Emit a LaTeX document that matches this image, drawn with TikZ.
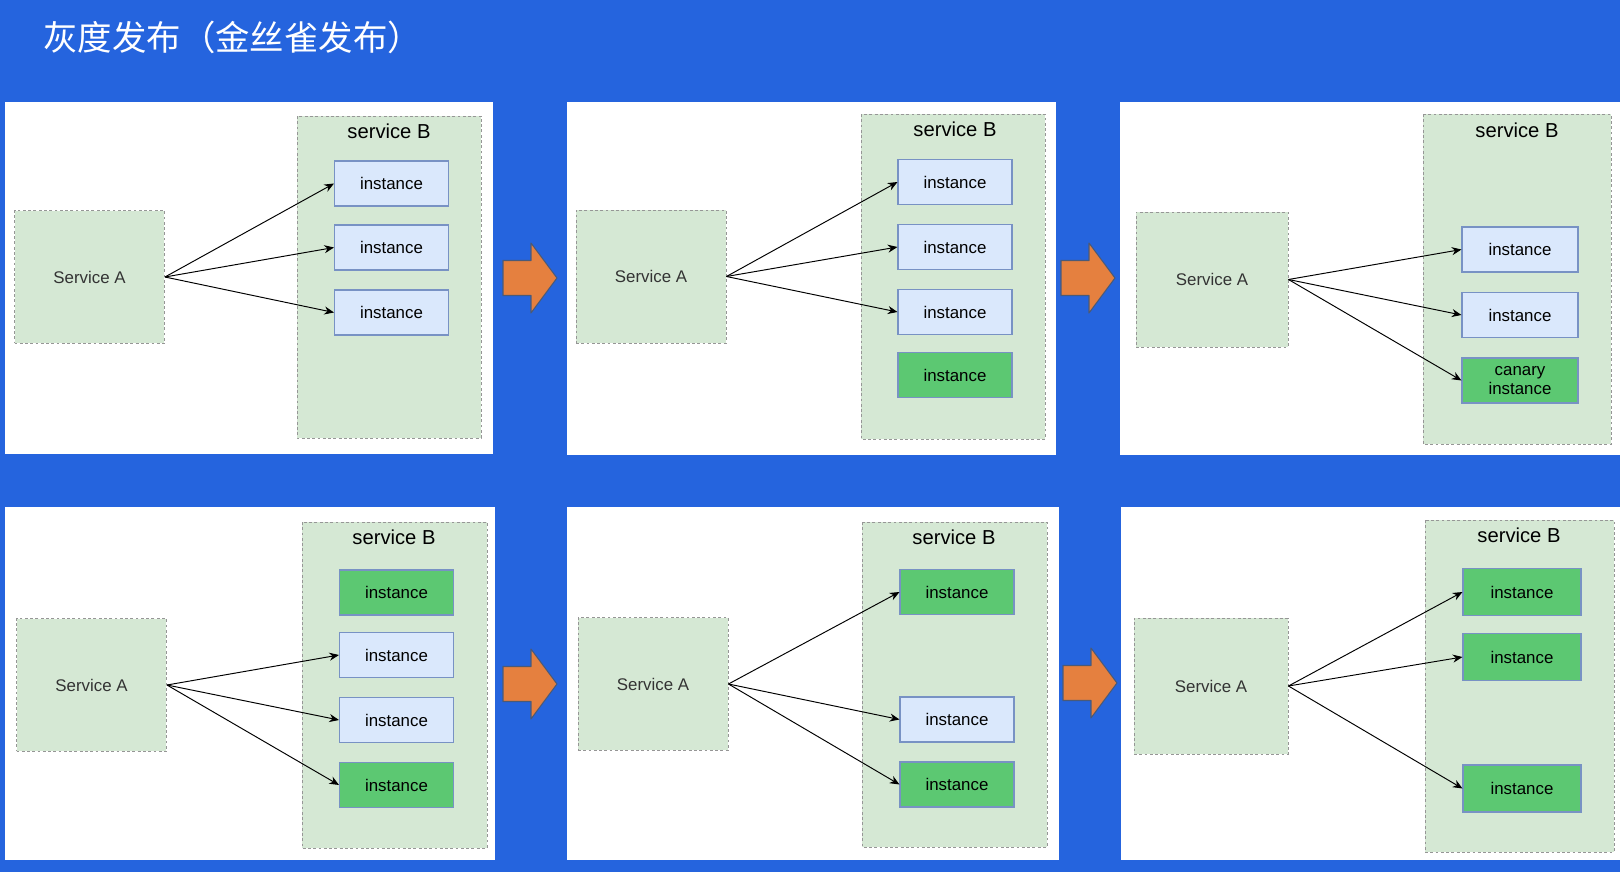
\documentclass[tikz,border=0pt]{standalone}
\usepackage{fontspec}
\setmainfont{Liberation Sans}
\newfontfamily\cjk{Noto Sans CJK SC}
\usetikzlibrary{arrows.meta}
\definecolor{bgblue}{RGB}{37,100,222}
\definecolor{grpgreen}{RGB}{213,232,212}
\definecolor{grpline}{RGB}{150,150,150}
\definecolor{instblue}{RGB}{218,232,252}
\definecolor{instline}{RGB}{120,146,196}
\definecolor{instgreen}{RGB}{92,200,114}
\definecolor{floworange}{RGB}{229,128,63}
\definecolor{flowedge}{RGB}{74,90,120}

\begin{document}
\begin{tikzpicture}[x=0.02cm, y=-0.02cm,
  grp/.style={draw=grpline, fill=grpgreen, dash pattern=on 1.6pt off 1.4pt, line width=0.55pt},
  svc/.style={grp, minimum width=3cm, minimum height=2.66cm, inner sep=0pt,
    text=black!80, font=\fontsize{9.6}{11}\selectfont},
  inst/.style={draw=instline, fill=instblue, line width=0.6pt, minimum width=2.28cm,
    minimum height=0.9cm, inner sep=0pt, align=center, font=\fontsize{9.6}{10.8}\selectfont},
  canary/.style={inst, fill=instgreen},
  grplabel/.style={font=\fontsize{11.5}{13}\selectfont},
  call/.style={-{Stealth[length=5.5pt, width=4.6pt]}, line width=0.55pt},
  flow/.style={fill=floworange, draw=flowedge, line width=0.6pt, line join=round}]
% background and title
\useasboundingbox (0,0) rectangle (1620,872);
\fill[bgblue] (0,0) rectangle (1620,872);
\node[anchor=west, text=white, inner sep=0pt, font=\cjk\fontsize{19.6}{23}\selectfont] (title) at (43,37) {灰度发布（金丝雀发布）};
% white panels
\fill[white] (5,102) rectangle (493,454);
\fill[white] (567,102) rectangle (1056,455);
\fill[white] (1120,102) rectangle (1620,455);
\fill[white] (5,507) rectangle (495,860);
\fill[white] (567,507) rectangle (1059,860);
\fill[white] (1121,507) rectangle (1620,860);
% step arrows between panels
\foreach \x/\y in {503/278, 1061/278, 503/684, 1063/683}
  \draw[flow] (\x,\y-17.5) -- ++(28,0) -- ++(0,-17.5) -- ++(26,35) -- ++(-26,35) -- ++(0,-17.5) -- ++(-28,0) -- cycle;

% panel 1: all old instances
\draw[grp] (297,116) rectangle (481,438);
\node[grplabel] (lb1) at (389,131) {service B};
\node[svc] (a1) at (89.5,277) {Service A};
\node[inst] (i11) at (391.5,183.5) {instance};
\node[inst] (i12) at (391.5,247.5) {instance};
\node[inst] (i13) at (391.5,312.5) {instance};
\foreach \n in {i11,i12,i13} \draw[call] (a1.east) -- (\n.west);

% panel 2: a new instance is started
\draw[grp] (861,114) rectangle (1045,439);
\node[grplabel] (lb2) at (955,129) {service B};
\node[svc] (a2) at (651,276.5) {Service A};
\node[inst] (i21) at (955,182) {instance};
\node[inst] (i22) at (955,247) {instance};
\node[inst] (i23) at (955,312) {instance};
\node[canary] (i24) at (955,375) {instance};
\foreach \n in {i21,i22,i23} \draw[call] (a2.east) -- (\n.west);

% panel 3: canary gets traffic
\draw[grp] (1423,114) rectangle (1611,444);
\node[grplabel] (lb3) at (1517,130) {service B};
\node[svc, minimum width=3.04cm, minimum height=2.7cm] (a3) at (1212,279.5) {Service A};
\node[inst, minimum width=2.32cm] (i31) at (1520,249.5) {instance};
\node[inst, minimum width=2.32cm] (i32) at (1520,315) {instance};
\node[canary, minimum width=2.32cm] (i33) at (1520,380.5) {canary\\instance};
\foreach \n in {i31,i32,i33} \draw[call] (a3.east) -- (\n.west);

% panel 4: one old instance replaced
\draw[grp] (302,522) rectangle (487,848);
\node[grplabel] (lb4) at (394,537) {service B};
\node[svc] (a4) at (91.5,685) {Service A};
\node[canary] (i41) at (396.5,592.5) {instance};
\node[inst] (i42) at (396.5,655) {instance};
\node[inst] (i43) at (396.5,720) {instance};
\node[canary] (i44) at (396.5,785) {instance};
\foreach \n in {i42,i43,i44} \draw[call] (a4.east) -- (\n.west);

% panel 5
\draw[grp] (862,522) rectangle (1047,847);
\node[grplabel] (lb5) at (954,537) {service B};
\node[svc] (a5) at (653,684) {Service A};
\node[canary] (i51) at (957,592) {instance};
\node[inst] (i52) at (957,719.5) {instance};
\node[canary] (i53) at (957,784.5) {instance};
\foreach \n in {i51,i52,i53} \draw[call] (a5.east) -- (\n.west);

% panel 6: all new instances
\draw[grp] (1425,520) rectangle (1614,852);
\node[grplabel] (lb6) at (1519,535) {service B};
\node[svc, minimum width=3.08cm, minimum height=2.72cm] (a6) at (1211,686) {Service A};
\node[canary, minimum width=2.36cm, minimum height=0.94cm] (i61) at (1522,592) {instance};
\node[canary, minimum width=2.36cm, minimum height=0.94cm] (i62) at (1522,657) {instance};
\node[canary, minimum width=2.36cm, minimum height=0.94cm] (i63) at (1522,788.5) {instance};
\foreach \n in {i61,i62,i63} \draw[call] (a6.east) -- (\n.west);
\end{tikzpicture}
\end{document}
